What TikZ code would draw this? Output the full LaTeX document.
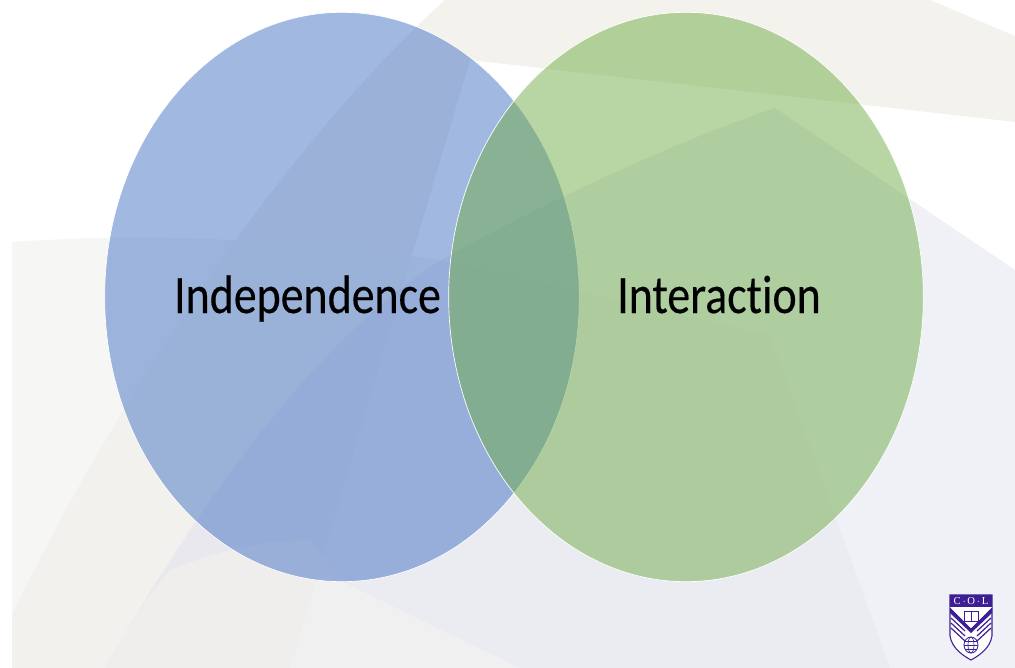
\documentclass[tikz,border=0pt]{standalone}
\usepackage{fontspec}
\newfontfamily\wordfont{Carlito}[RawFeature={-liga},FakeBold=0.3]
\newfontfamily\logofont{Liberation Serif}
\usetikzlibrary{shapes.geometric}
\definecolor{warmtint}{HTML}{E7E5D9}
\definecolor{palefill}{HTML}{F6F6F5}
\definecolor{lavtint}{HTML}{E1E1F0}
\definecolor{warmpatch}{HTML}{EFEEEC}
\definecolor{palepatch}{HTML}{F1F0F0}
\definecolor{setblue}{HTML}{4472C4}
\definecolor{setgreen}{HTML}{70AD47}
\definecolor{crest}{HTML}{3E1F93}
\def\swathpath{(445,0) .. controls (300,130) and (130,370) .. (12,615) -- (12,668) -- (290,668) -- (470,60) -- (1015,122) -- (1015,36) -- (930,0) -- cycle}
\def\palepath{(12,242) .. controls (150,232) and (320,240) .. (450,262) -- (770,335) -- (890,668) -- (12,668) -- cycle}

\begin{document}
\begin{tikzpicture}[x=0.75pt,y=-0.75pt,
        blob/.style = {draw=white, line width=0.5pt, ellipse, inner sep=0pt, fill opacity=0.5, minimum width=356pt, minimum height=427pt},
        word/.style = {font=\wordfont\fontsize{34.4}{40}\selectfont, yscale=1.18, text=black, inner sep=0pt, anchor=base},
        chevron/.style = {draw=crest, line width=0.9pt}]
        \useasboundingbox (0,0) rectangle (1015,668);
        % backdrop
        \fill[warmtint, opacity=0.5] \swathpath;
        \fill[palefill] \palepath;
        \begin{scope}
            \clip \palepath;
            \fill[warmtint, opacity=0.25] \swathpath;
        \end{scope}
        \fill[lavtint, opacity=0.5] (105,668) .. controls (195,510) and (320,330) .. (450,255) .. controls (560,195) and (680,140) .. (775,108) -- (1015,270) -- (1015,668) -- cycle;
        \fill[warmpatch] (105,668) .. controls (125,630) and (145,600) .. (170,570) .. controls (220,550) and (265,540) .. (310,540) -- (345,583) -- (520,668) -- cycle;
        \fill[palepatch] (318,575) -- (290,668) -- (520,668) -- (345,583) -- cycle;
        % sets
        \node[blob, fill=setblue] (indep) at (342,297) {};
        \node[blob, fill=setgreen] (inter) at (686,297) {};
        \node[word] (indeplabel) at (307.5,313) {Independence};
        \node[word] (interlabel) at (719,313) {Interaction};
        % crest
        \fill[white, draw=crest, line width=0.8pt] (950,595) -- (992,595) -- (992,636) .. controls (990,648) and (980,655) .. (971,660) .. controls (962,655) and (952,648) .. (950,636) -- cycle;
        \fill[crest] (950,595) rectangle (992,607);
        \node[font=\logofont\fontsize{8}{9}\selectfont, text=white, inner sep=0pt] (crestname) at (971,601) {C\,$\cdot$\,O\,$\cdot$\,L};
        \fill[crest] (950,607) -- (971,628) -- (992,607) -- (992,613) -- (971,633) -- (950,613) -- cycle;
        \fill[white] (950,607) -- (971,628) -- (992,607) -- cycle;
        \draw[crest, line width=0.7pt, fill=white] (964,611) rectangle (978,621);
        \draw[crest, line width=0.7pt] (971,611) -- (971,621);
        \foreach \drop in {0,5,10} {
            \draw[chevron] (951,{618+\drop}) -- (965,{631+\drop});
            \draw[chevron] (991,{618+\drop}) -- (977,{631+\drop});
        }
        \draw[crest, line width=0.6pt] (971,645) ellipse [x radius=7, y radius=8];
        \draw[crest, line width=0.5pt] (971,645) ellipse [x radius=3, y radius=8];
        \draw[crest, line width=0.5pt] (964,645) -- (978,645);
        \draw[crest, line width=0.5pt] (965,641) -- (977,641);
        \draw[crest, line width=0.5pt] (965,649) -- (977,649);
\end{tikzpicture}
\end{document}
